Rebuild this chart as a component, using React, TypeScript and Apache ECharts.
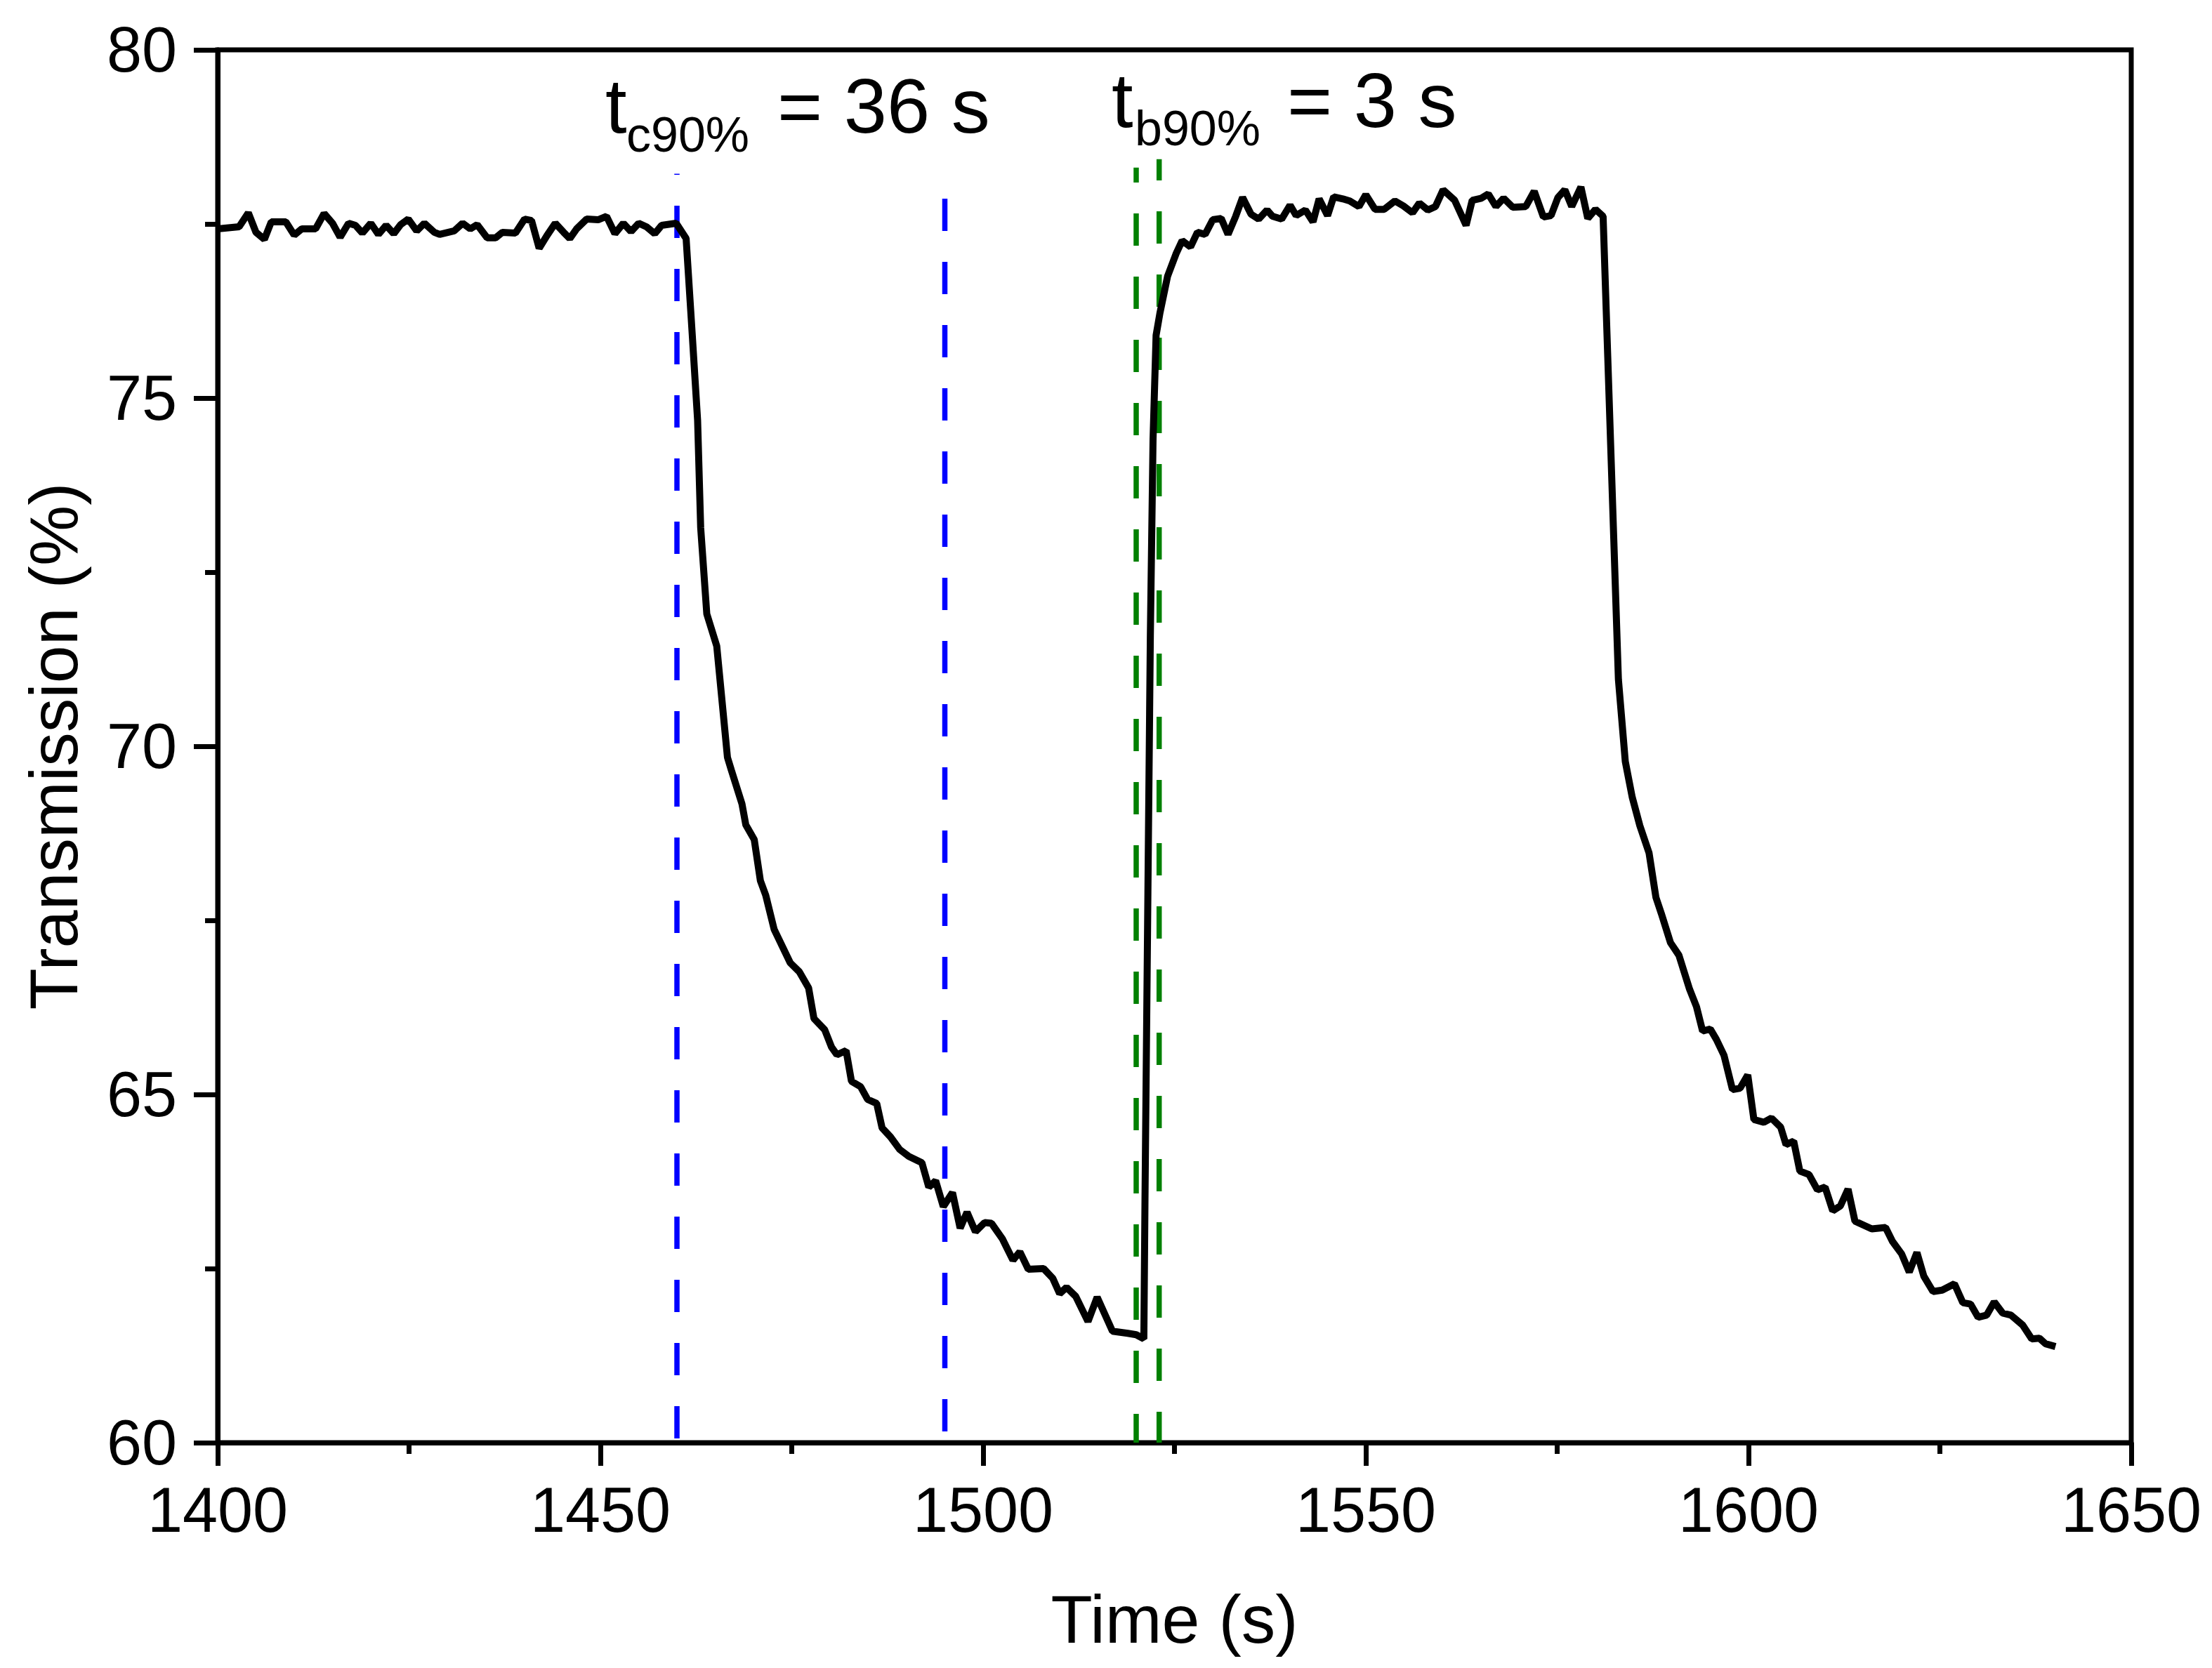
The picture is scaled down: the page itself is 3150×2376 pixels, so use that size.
import { useEffect, useRef } from "react"
import * as echarts from "echarts"

const FONT = '"Liberation Sans", Arial, Helvetica, sans-serif'

// transmission trace, time in s, transmission in %
const TIME = [
  1400.0, 1402.8, 1404.0, 1405.0, 1406.1, 1407.0, 1408.9, 1410.0, 1411.0, 1412.8,
  1413.9, 1415.0, 1416.0, 1417.1, 1418.0, 1418.9, 1420.0, 1421.0, 1422.0, 1423.0,
  1423.9, 1424.9, 1426.0, 1427.0, 1428.3, 1429.0, 1430.9, 1432.0, 1433.0, 1433.9,
  1435.2, 1436.3, 1437.2, 1438.9, 1440.1, 1441.0, 1442.0, 1443.0, 1444.1, 1445.2,
  1446.0, 1446.9, 1448.2, 1449.7, 1450.8, 1451.9, 1453.0, 1454.0, 1455.0, 1456.0,
  1457.1, 1458.0, 1459.9, 1461.2, 1462.0, 1462.7, 1463.1, 1463.9, 1465.2, 1466.6,
  1467.1, 1468.5, 1469.0, 1470.1, 1470.9, 1471.6, 1472.7, 1474.8, 1476.0, 1477.2,
  1477.9, 1479.3, 1480.2, 1480.9, 1482.1, 1482.8, 1484.0, 1484.9, 1486.1, 1486.8,
  1487.9, 1489.1, 1490.3, 1492.0, 1492.9, 1493.8, 1494.8, 1496.0, 1497.0, 1497.9,
  1499.0, 1500.2, 1501.1, 1502.5, 1503.9, 1504.8, 1505.9, 1507.9, 1509.1, 1510.0,
  1510.9, 1512.1, 1513.7, 1514.9, 1516.9, 1518.9, 1520.0, 1521.0, 1521.15, 1521.85,
  1522.2, 1522.6, 1523.1, 1524.1, 1525.2, 1526.0, 1527.1, 1528.0, 1529.0, 1530.0,
  1531.1, 1532.0, 1533.0, 1533.9, 1535.0, 1536.0, 1537.1, 1537.8, 1539.0, 1540.1,
  1540.9, 1542.1, 1543.1, 1543.9, 1545.0, 1545.8, 1547.0, 1547.9, 1549.1, 1550.0,
  1551.2, 1552.4, 1553.8, 1554.9, 1556.1, 1557.0, 1558.1, 1559.1, 1560.1, 1561.6,
  1563.1, 1563.9, 1565.1, 1566.0, 1567.0, 1568.0, 1569.2, 1570.9, 1572.0, 1573.2,
  1574.2, 1575.1, 1576.0, 1576.9, 1578.1, 1579.0, 1580.0, 1581.0, 1583.0, 1583.9,
  1584.8, 1585.8, 1587.0, 1587.9, 1588.6, 1589.8, 1590.9, 1592.3, 1593.2, 1594.0,
  1595.0, 1595.8, 1596.8, 1597.9, 1598.9, 1599.9, 1600.7, 1602.0, 1603.0, 1604.2,
  1604.9, 1605.9, 1606.7, 1607.9, 1609.0, 1610.0, 1611.0, 1612.0, 1613.0, 1613.9,
  1616.1, 1617.9, 1618.8, 1620.0, 1621.0, 1622.0, 1622.9, 1624.1, 1625.3, 1626.9,
  1628.0, 1629.0, 1630.0, 1631.1, 1632.1, 1633.2, 1634.3, 1635.8, 1637.0, 1638.0,
  1638.8, 1640.1,
]

const TRANSMISSION = [
  77.43, 77.46, 77.66, 77.38, 77.28, 77.53, 77.53, 77.34, 77.43, 77.43,
  77.65, 77.51, 77.31, 77.51, 77.48, 77.37, 77.51, 77.35, 77.48, 77.36,
  77.49, 77.57, 77.40, 77.51, 77.38, 77.35, 77.40, 77.51, 77.43, 77.49,
  77.30, 77.30, 77.38, 77.37, 77.57, 77.55, 77.15, 77.33, 77.51, 77.38,
  77.29, 77.43, 77.57, 77.56, 77.61, 77.36, 77.51, 77.39, 77.51, 77.46,
  77.36, 77.48, 77.51, 77.29, 75.91, 74.68, 73.14, 71.90, 71.44, 69.84,
  69.66, 69.17, 68.87, 68.66, 68.07, 67.86, 67.37, 66.89, 66.76, 66.53,
  66.09, 65.93, 65.68, 65.57, 65.63, 65.19, 65.11, 64.93, 64.87, 64.52,
  64.39, 64.21, 64.11, 64.02, 63.67, 63.76, 63.39, 63.59, 63.08, 63.31,
  63.03, 63.16, 63.15, 62.93, 62.62, 62.74, 62.49, 62.50, 62.36, 62.14,
  62.23, 62.10, 61.74, 62.09, 61.60, 61.57, 61.55, 61.49, 63.50, 71.60,
  74.40, 75.90, 76.22, 76.75, 77.07, 77.26, 77.17, 77.38, 77.35, 77.56,
  77.58, 77.35, 77.61, 77.88, 77.64, 77.57, 77.70, 77.61, 77.57, 77.77,
  77.62, 77.70, 77.53, 77.86, 77.62, 77.89, 77.86, 77.83, 77.75, 77.92,
  77.71, 77.71, 77.83, 77.76, 77.66, 77.80, 77.70, 77.75, 77.99, 77.84,
  77.48, 77.84, 77.87, 77.93, 77.75, 77.87, 77.74, 77.75, 77.97, 77.60,
  77.62, 77.88, 77.99, 77.75, 78.03, 77.58, 77.71, 77.61, 70.96, 69.78,
  69.27, 68.86, 68.47, 67.83, 67.60, 67.18, 67.00, 66.51, 66.26, 65.91,
  65.94, 65.79, 65.56, 65.07, 65.09, 65.28, 64.64, 64.60, 64.66, 64.53,
  64.28, 64.33, 63.90, 63.85, 63.63, 63.67, 63.33, 63.40, 63.64, 63.18,
  63.07, 63.09, 62.89, 62.71, 62.45, 62.73, 62.39, 62.17, 62.19, 62.28,
  62.01, 61.99, 61.80, 61.83, 62.02, 61.86, 61.83, 61.69, 61.49, 61.50,
  61.42, 61.38,
]

// vertical dashed guide lines (t90 markers)
const GUIDE_TIME = [1460, 1495, 1520, 1523]
const GUIDE_TOP = [78.22, 78.3, 78.31, 78.43]
const GUIDE_COLOR = ["#0000ff", "#0000ff", "#008000", "#008000"]
const GUIDE_OFFSET = [84, 74, 5, 2]

const X_MIN = 1400
const X_MAX = 1650
const Y_MIN = 60
const Y_MAX = 80

export default function App() {
  const chartRef = useRef<HTMLDivElement>(null)

  useEffect(() => {
    document.body.style.margin = "0"
    if (!chartRef.current) return
    const chart = echarts.init(chartRef.current, null, { renderer: "svg" })

    const trace = TIME.map((t, i) => [t, TRANSMISSION[i]])

    const guides = GUIDE_TIME.map((t, i) => ({
      type: "line",
      data: [
        [t, Y_MIN],
        [t, GUIDE_TOP[i]],
      ],
      showSymbol: false,
      silent: true,
      z: 1,
      lineStyle: {
        color: GUIDE_COLOR[i],
        width: 7.5,
        type: [46, 44],
        dashOffset: GUIDE_OFFSET[i],
      },
    }))

    const textStyle = (text: string, size: number) => ({
      text,
      fontSize: size,
      fontFamily: FONT,
      fill: "#000",
      align: "left",
      verticalAlign: "middle",
    })

    const option: any = {
      animation: false,
      backgroundColor: "#fff",
      grid: {
        left: 310,
        right: 115,
        top: 71,
        bottom: 321,
        show: true,
        borderColor: "#000",
        borderWidth: 7,
      },
      xAxis: {
        type: "value",
        min: X_MIN,
        max: X_MAX,
        interval: 50,
        name: "Time (s)",
        nameLocation: "middle",
        nameGap: 203,
        nameTextStyle: { fontSize: 97, fontFamily: FONT, color: "#000" },
        axisLine: { show: true, lineStyle: { color: "#000", width: 7 } },
        axisTick: { show: true, inside: false, length: 33, lineStyle: { color: "#000", width: 7 } },
        minorTick: { show: true, splitNumber: 2, length: 16, lineStyle: { color: "#000", width: 7 } },
        axisLabel: {
          fontSize: 90,
          fontFamily: FONT,
          color: "#000",
          margin: 51,
          formatter: (v: number) => String(v),
        },
        splitLine: { show: false },
      },
      yAxis: {
        type: "value",
        min: Y_MIN,
        max: Y_MAX,
        interval: 5,
        name: "Transmission (%)",
        nameLocation: "middle",
        nameGap: 185,
        nameTextStyle: { fontSize: 97, fontFamily: FONT, color: "#000" },
        axisLine: { show: true, lineStyle: { color: "#000", width: 7 } },
        axisTick: { show: true, inside: false, length: 34, lineStyle: { color: "#000", width: 7 } },
        minorTick: { show: true, splitNumber: 2, length: 18, lineStyle: { color: "#000", width: 7 } },
        axisLabel: {
          fontSize: 90,
          fontFamily: FONT,
          color: "#000",
          margin: 58,
          formatter: (v: number) => String(v),
        },
        splitLine: { show: false },
      },
      series: [
        ...guides,
        {
          type: "line",
          data: trace,
          showSymbol: false,
          silent: true,
          z: 3,
          lineStyle: { color: "#000", width: 10 },
        },
      ],
      graphic: [
        { type: "text", x: 862, y: 150, style: textStyle("t", 110) },
        { type: "text", x: 892, y: 192, style: textStyle("c90%", 70) },
        { type: "text", x: 1107, y: 150, style: textStyle("= 36 s", 110) },
        { type: "text", x: 1583, y: 142, style: textStyle("t", 110) },
        { type: "text", x: 1616, y: 183, style: textStyle("b90%", 70) },
        { type: "text", x: 1833, y: 142, style: textStyle("= 3 s", 110) },
      ],
    }

    chart.setOption(option)

    return () => {
      chart.dispose()
    }
  }, [])

  return <div ref={chartRef} style={{ width: "3150px", height: "2376px" }} />
}
